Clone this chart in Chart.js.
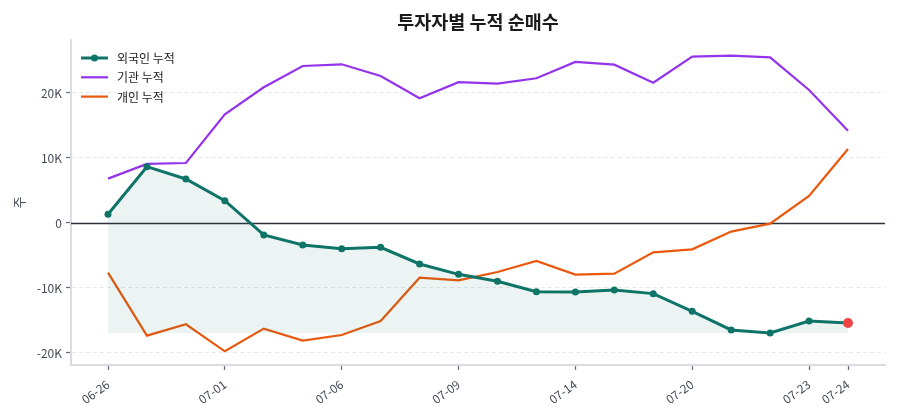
<!DOCTYPE html>
<html>
<head>
<meta charset="utf-8">
<script src="https://cdn.jsdelivr.net/npm/chart.js@4.4.0/dist/chart.umd.min.js"></script>
<style>
  html, body { margin: 0; padding: 0; background: #fff; }
  #wrap { width: 900px; height: 420px; }
</style>
</head>
<body>
<div id="wrap"><canvas id="main-chart" width="900" height="420"></canvas></div>
<script>
// trading days (only some are labelled on the axis)
const dates = [
  "06-26", "06-27", "06-30", "07-01", "07-02", "07-03", "07-06", "07-07", "07-08", "07-09",
  "07-10", "07-11", "07-14", "07-15", "07-16", "07-20", "07-21", "07-22", "07-23", "07-24"
];
const labelledIdx = [0, 3, 6, 9, 12, 15, 18, 19];

// cumulative net buying, shares
const foreignCum = [
  1340, 8660, 6770, 3430, -1850, -3380, -3950, -3740, -6310, -7900,
  -8970, -10570, -10620, -10310, -10870, -13590, -16460, -16920, -15080, -15380
];
const institutionCum = [
  6820, 9080, 9230, 16720, 20880, 24150, 24410, 22620, 19180, 21660,
  21430, 22260, 24770, 24360, 21590, 25590, 25740, 25490, 20460, 14200
];
const individualCum = [
  -7640, -17330, -15590, -19740, -16260, -18100, -17230, -15080, -8410, -8820,
  -7540, -5850, -7950, -7800, -4510, -4050, -1330, -100, 4150, 11380
];

const yTicks = [-20000, -10000, 0, 10000, 20000];
const seriesNames = ["외국인 누적", "기관 누적", "개인 누적"];
const chartTitle = "투자자별 누적 순매수";
const yTitle = "주";

const FONT = "'Noto Sans CJK KR', 'Noto Sans', sans-serif";
const TEAL = "#0f7468";
const PURPLE = "#9333ea";
const ORANGE = "#ea580c";
const LAST_RED = "#ef4444";

const toXY = arr => arr.map((v, i) => ({ x: i, y: v }));
const fillFloor = Math.min(...foreignCum);
const lastIdx = foreignCum.length - 1;

function fmtK(v) {
  if (v === 0) return "0";
  return `${v / 1000}K`;
}

// title centred over the plot area + legend inside the plot
const overlayPlugin = {
  id: "overlay",
  afterDraw(chart) {
    const { ctx, chartArea } = chart;
    ctx.save();
    ctx.fillStyle = "#1a1a1a";
    ctx.font = `bold 18.5px ${FONT}`;
    ctx.textAlign = "center";
    ctx.textBaseline = "middle";
    ctx.fillText(chartTitle, (chartArea.left + chartArea.right) / 2, 22);

    const x0 = chartArea.left + 10;
    ctx.font = `12px ${FONT}`;
    ctx.textAlign = "left";
    chart.data.datasets.forEach((ds, i) => {
      const y = chartArea.top + 18 + i * 19.3;
      ctx.strokeStyle = ds.borderColor;
      ctx.lineWidth = ds.borderWidth;
      ctx.beginPath();
      ctx.moveTo(x0, y);
      ctx.lineTo(x0 + 27, y);
      ctx.stroke();
      if (i === 0) {
        ctx.fillStyle = ds.borderColor;
        ctx.beginPath();
        ctx.arc(x0 + 13.5, y, 3.5, 0, Math.PI * 2);
        ctx.fill();
      }
      ctx.fillStyle = "#222";
      ctx.fillText(ds.label, x0 + 36, y + 0.5);
    });
    ctx.restore();
  }
};

// solid zero line on top of the dashed grid
const zeroLinePlugin = {
  id: "zeroLine",
  beforeDatasetsDraw(chart) {
    const { ctx, chartArea, scales } = chart;
    const y = Math.round(scales.y.getPixelForValue(0)) + 0.5;
    ctx.save();
    ctx.strokeStyle = "#2b303b";
    ctx.lineWidth = 1.3;
    ctx.beginPath();
    ctx.moveTo(chartArea.left, y);
    ctx.lineTo(chartArea.right, y);
    ctx.stroke();
    ctx.restore();
  }
};

function renderChart() {
  const ctx = document.getElementById("main-chart").getContext("2d");
  return new Chart(ctx, {
    type: "line",
    data: {
      datasets: [
        {
          label: seriesNames[0],
          data: toXY(foreignCum),
          borderColor: TEAL,
          borderWidth: 3,
          backgroundColor: "rgba(15,116,104,0.08)",
          fill: { value: fillFloor },
          pointRadius: c => (c.dataIndex === lastIdx ? 5 : 3.5),
          pointBackgroundColor: c => (c.dataIndex === lastIdx ? LAST_RED : TEAL),
          pointBorderColor: c => (c.dataIndex === lastIdx ? LAST_RED : TEAL),
          pointBorderWidth: 0,
          tension: 0,
          order: 0
        },
        {
          label: seriesNames[1],
          data: toXY(institutionCum),
          borderColor: PURPLE,
          borderWidth: 2.2,
          pointRadius: 0,
          fill: false,
          tension: 0,
          order: 1
        },
        {
          label: seriesNames[2],
          data: toXY(individualCum),
          borderColor: ORANGE,
          borderWidth: 2.2,
          pointRadius: 0,
          fill: false,
          tension: 0,
          order: 2
        }
      ]
    },
    options: {
      responsive: false,
      animation: false,
      layout: { padding: { top: 40, right: 15, left: 0, bottom: 0 } },
      plugins: {
        legend: { display: false },
        title: { display: false },
        tooltip: { enabled: false }
      },
      scales: {
        x: {
          type: "linear",
          min: -0.95,
          max: lastIdx + 0.95,
          afterBuildTicks: axis => {
            axis.ticks = labelledIdx.map(v => ({ value: v }));
          },
          afterFit: scale => { scale.height = 55; },
          ticks: {
            autoSkip: false,
            minRotation: 36,
            maxRotation: 36,
            padding: 7,
            color: "#454b57",
            font: { family: FONT, size: 12 },
            callback: v => dates[v]
          },
          grid: {
            drawOnChartArea: false,
            drawTicks: true,
            tickLength: 5,
            tickColor: "#6b7280",
            tickWidth: 1.3
          },
          border: { display: true, color: "#d9dde3", width: 2 }
        },
        y: {
          min: -21850,
          max: 28150,
          afterBuildTicks: axis => {
            axis.ticks = yTicks.map(v => ({ value: v }));
          },
          afterFit: scale => { scale.width = 71; },
          ticks: {
            padding: 4,
            color: "#454b57",
            font: { family: FONT, size: 12 },
            callback: v => fmtK(v)
          },
          grid: {
            color: c => (c.tick && c.tick.value === 0 ? "rgba(0,0,0,0)" : "#e6e8eb"),
            lineWidth: 1,
            drawTicks: true,
            tickLength: 5,
            tickColor: "#6b7280",
            tickWidth: 1.3
          },
          border: { display: true, color: "#d9dde3", width: 2, dash: [4, 3] },
          title: {
            display: true,
            text: yTitle,
            color: "#454b57",
            font: { family: FONT, size: 13 },
            padding: { top: 11, bottom: 0 }
          }
        }
      }
    },
    plugins: [zeroLinePlugin, overlayPlugin]
  });
}

renderChart();
</script>
</body>
</html>
